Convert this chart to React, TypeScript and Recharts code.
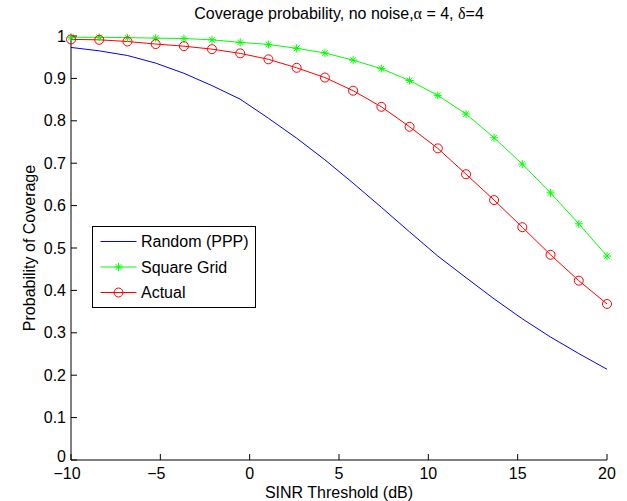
import { LineChart, Line, XAxis, YAxis } from 'recharts'

// SINR threshold (dB), 20 points from -10 to 20
const thresholds = [
  -10, -8.42, -6.84, -5.26, -3.68, -2.11, -0.53, 1.05, 2.63, 4.21,
  5.79, 7.37, 8.95, 10.53, 12.11, 13.68, 15.26, 16.84, 18.42, 20,
]
const randomPPP = [
  0.973, 0.965, 0.954, 0.936, 0.912, 0.883, 0.851, 0.806, 0.759, 0.708,
  0.653, 0.596, 0.538, 0.481, 0.43, 0.38, 0.333, 0.29, 0.251, 0.214,
]
const squareGrid = [
  0.997, 0.997, 0.996, 0.995, 0.994, 0.991, 0.985, 0.98, 0.971, 0.96,
  0.943, 0.923, 0.895, 0.86, 0.816, 0.76, 0.698, 0.63, 0.557, 0.481,
]
const actual = [
  0.992, 0.991, 0.987, 0.981, 0.976, 0.969, 0.959, 0.945, 0.925, 0.902,
  0.871, 0.833, 0.786, 0.735, 0.674, 0.613, 0.549, 0.484, 0.423, 0.368,
]
const xTicks = [-10, -5, 0, 5, 10, 15, 20]
const yTicks = [0, 0.1, 0.2, 0.3, 0.4, 0.5, 0.6, 0.7, 0.8, 0.9, 1]

const data = thresholds.map((x, i) => ({
  x,
  random: randomPPP[i],
  grid: squareGrid[i],
  actual: actual[i],
}))

const FONT = '"Liberation Sans", Arial, Helvetica, sans-serif'
const BLUE = '#0000ff'
const GREEN = '#00ff00'
const RED = '#ff0000'

function StarDot(props: any) {
  const { cx, cy } = props
  if (cx == null || cy == null) return null
  const r = 4
  const d = r * 0.7
  return (
    <g stroke={GREEN} strokeWidth={1}>
      <line x1={cx - r} y1={cy} x2={cx + r} y2={cy} />
      <line x1={cx} y1={cy - r} x2={cx} y2={cy + r} />
      <line x1={cx - d} y1={cy - d} x2={cx + d} y2={cy + d} />
      <line x1={cx - d} y1={cy + d} x2={cx + d} y2={cy - d} />
    </g>
  )
}

// matlab draws the minus a bit wider, so negative labels sit left of the tick
function XTick(props: any) {
  const { x, y, payload } = props
  const v = payload.value as number
  return (
    <text
      x={x}
      y={y}
      dx={v < 0 ? -4 : 0}
      dy="0.71em"
      textAnchor="middle"
      fontSize={16}
      fontFamily={FONT}
      fill="#000"
    >
      {v < 0 ? `\u2212${Math.abs(v)}` : `${v}`}
    </text>
  )
}

function YTick(props: any) {
  const { x, y, payload } = props
  const v = payload.value as number
  return (
    <text
      x={x}
      y={v === 0 ? y - 4 : y}
      dy="0.355em"
      textAnchor="end"
      fontSize={16}
      fontFamily={FONT}
      fill="#000"
    >
      {`${v}`}
    </text>
  )
}

const blank = () => ''

const legendItems = [
  { name: 'Random (PPP)', color: BLUE, marker: 'none' },
  { name: 'Square Grid', color: GREEN, marker: 'star' },
  { name: 'Actual', color: RED, marker: 'circle' },
]

export default function App() {
  return (
    <div style={{ position: 'absolute', left: 0, top: 0, width: 627, height: 501, background: '#fff' }}>
      <LineChart
        width={627}
        height={501}
        data={data}
        margin={{ top: 36, right: 20, bottom: 0, left: 0 }}
      >
        <XAxis
          dataKey="x"
          type="number"
          domain={[-10, 20]}
          ticks={xTicks}
          height={41}
          tickSize={-6}
          tickMargin={14}
          tick={<XTick />}
          stroke="#000"
          label={{
            value: 'SINR Threshold (dB)',
            position: 'insideBottom',
            offset: 3,
            style: { fill: '#000', fontSize: 16, fontFamily: FONT },
          }}
        />
        <XAxis
          xAxisId="top"
          orientation="top"
          dataKey="x"
          type="number"
          domain={[-10, 20]}
          ticks={xTicks}
          tickFormatter={blank}
          height={0}
          tickSize={-6}
          stroke="#000"
        />
        <YAxis
          type="number"
          domain={[0, 1]}
          ticks={yTicks}
          width={71}
          tickSize={-6}
          tickMargin={11}
          tick={<YTick />}
          stroke="#000"
          label={{
            value: 'Probability of Coverage',
            angle: -90,
            position: 'center',
            dx: -6,
            style: { fill: '#000', fontSize: 16, fontFamily: FONT, textAnchor: 'middle' },
          }}
        />
        <YAxis
          yAxisId="right"
          orientation="right"
          type="number"
          domain={[0, 1]}
          ticks={yTicks}
          tickFormatter={blank}
          width={0}
          tickSize={-6}
          stroke="#000"
        />
        <Line
          dataKey="random"
          stroke={BLUE}
          strokeWidth={1}
          dot={false}
          isAnimationActive={false}
        />
        <Line
          dataKey="grid"
          stroke={GREEN}
          strokeWidth={1}
          dot={<StarDot />}
          isAnimationActive={false}
        />
        <Line
          dataKey="actual"
          stroke={RED}
          strokeWidth={1}
          dot={{ r: 4.5, stroke: RED, fill: 'none', strokeWidth: 1 }}
          isAnimationActive={false}
        />
      </LineChart>
      <svg
        width={627}
        height={501}
        style={{ position: 'absolute', left: 0, top: 0, pointerEvents: 'none' }}
      >
        <text x={339} y={19} textAnchor="middle" fontSize={16} fontFamily={FONT} fill="#000">
          Coverage probability, no noise,
          <tspan fontFamily="'Liberation Serif', serif">α</tspan>
          {' = 4, '}
          <tspan fontFamily="'Liberation Serif', serif">δ</tspan>
          =4
        </text>
        <g transform="translate(92.5,226.5)">
          <rect x={0} y={0} width={163} height={81} fill="#fff" stroke="#000" strokeWidth={1} />
          {legendItems.map((item, i) => {
            const y = 15 + i * 25.5
            return (
              <g key={item.name}>
                <line x1={8} y1={y} x2={44} y2={y} stroke={item.color} strokeWidth={1} />
                {item.marker === 'circle' && (
                  <circle cx={26} cy={y} r={4.5} fill="none" stroke={item.color} />
                )}
                {item.marker === 'star' && <StarDot cx={26} cy={y} />}
                <text
                  x={48.5}
                  y={y}
                  dy="0.36em"
                  fontSize={16}
                  fontFamily={FONT}
                  fill="#000"
                >
                  {item.name}
                </text>
              </g>
            )
          })}
        </g>
      </svg>
    </div>
  )
}
